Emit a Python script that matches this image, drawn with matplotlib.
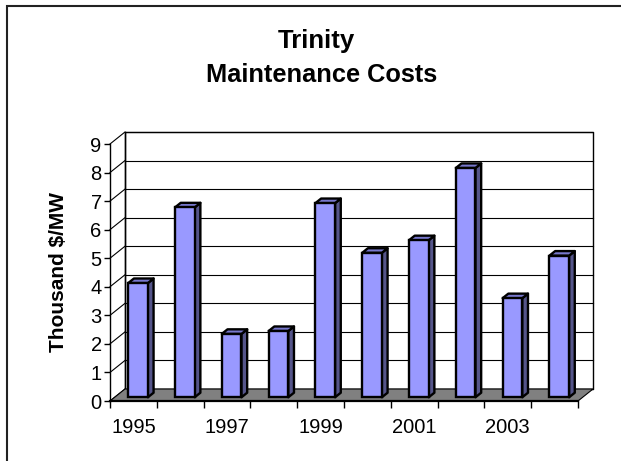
import matplotlib
matplotlib.use("Agg")
import matplotlib.pyplot as plt
from matplotlib.patches import Polygon, Rectangle

# ---- data ----
years = ["1995", "1996", "1997", "1998", "1999", "2000", "2001", "2002", "2003", "2004"]
costs = [4.0, 6.65, 2.22, 2.32, 6.8, 5.06, 5.5, 8.03, 3.47, 4.96]
y_ticks = [0, 1, 2, 3, 4, 5, 6, 7, 8, 9]
title_lines = ["Trinity", "Maintenance Costs"]
y_label = "Thousand $/MW"

plt.rcParams['font.family'] = ['Liberation Sans', 'DejaVu Sans']

W, H = 621, 461
fig = plt.figure(figsize=(W / 100, H / 100), dpi=100)
fig.patch.set_facecolor('white')

# front plot region in pixels
x0, x1 = 110, 578
yb, yt = 401, 144
ax = fig.add_axes([x0 / W, (H - yb) / H, (x1 - x0) / W, (yb - yt) / H])
ax.set_facecolor('none')
n = len(costs)
ax.set_xlim(-0.5, n - 0.5)
ax.set_ylim(0, 9)

# 3D depth offsets in data units
px_x = (x1 - x0) / n
px_y = (yb - yt) / 9
DX = 15 / px_x
DY = 12 / px_y
ymax = y_ticks[-1]

# back wall
ax.add_patch(Polygon([(-0.5 + DX, DY), (n - 0.5 + DX, DY), (n - 0.5 + DX, ymax + DY),
                      (-0.5 + DX, ymax + DY)], closed=True, facecolor='white',
                     edgecolor='black', lw=1.0, clip_on=False, zorder=1))
for k in y_ticks:
    ax.plot([-0.5 + DX, n - 0.5 + DX], [k + DY, k + DY], color='black', lw=0.8,
            clip_on=False, zorder=1.5)
    ax.plot([-0.5, -0.5 + DX], [k, k + DY], color='black', lw=0.8,
            clip_on=False, zorder=1.5)
ax.plot([-0.5 + DX, -0.5 + DX], [DY, ymax + DY], color='black', lw=1.0,
        clip_on=False, zorder=1.6)

# floor
ax.add_patch(Polygon([(-0.5, 0), (n - 0.5, 0), (n - 0.5 + DX, DY), (-0.5 + DX, DY)],
                     closed=True, facecolor='#808080', edgecolor='black', lw=0.8,
                     clip_on=False, zorder=2))

# bars
bw = 0.42
f0, f1 = 0.31, 0.69
bd = f1 - f0
xs = [i + f0 * DX for i in range(n)]
base = f0 * DY
ax.bar(xs, costs, width=bw, bottom=base, color='#9999FF', edgecolor='black',
       linewidth=1.7, zorder=5, clip_on=False)
for xc, v in zip(xs, costs):
    xr = xc + bw / 2
    xl = xc - bw / 2
    top = base + v
    ax.add_patch(Polygon([(xr, base), (xr + bd * DX, base + bd * DY),
                          (xr + bd * DX, top + bd * DY), (xr, top)], closed=True,
                         facecolor='#55558A', edgecolor='black', lw=1.7,
                         joinstyle='round', clip_on=False, zorder=4))
    ax.add_patch(Polygon([(xl, top), (xr, top), (xr + bd * DX, top + bd * DY),
                          (xl + bd * DX, top + bd * DY)], closed=True,
                         facecolor='#7777CC', edgecolor='black', lw=1.7,
                         joinstyle='round', clip_on=False, zorder=4))

# spines / ticks
for s in ['top', 'right']:
    ax.spines[s].set_visible(False)
ax.spines['left'].set_linewidth(1.0)
ax.spines['bottom'].set_linewidth(1.6)
ax.spines['left'].set_zorder(6)
ax.spines['bottom'].set_zorder(6)

ax.set_yticks(y_ticks)
ax.set_yticklabels([str(t) for t in y_ticks])
ax.tick_params(axis='y', direction='out', length=4, width=1.0, pad=2,
               labelsize=14.5)

ax.set_xticks([i - 0.5 for i in range(n + 1)])
ax.set_xticklabels([])
ax.tick_params(axis='x', which='major', direction='out', length=5, width=1.0)
ax.set_xticks(list(range(0, n, 2)), minor=True)
ax.set_xticklabels([years[i] for i in range(0, n, 2)], minor=True)
ax.tick_params(axis='x', which='minor', length=0, pad=12, labelsize=14.5)

# titles / labels
fig.text(316 / W, 1 - 48 / H, title_lines[0], ha='center', va='baseline',
         fontsize=18.5, fontweight='bold')
fig.text(322 / W, 1 - 82 / H, title_lines[1], ha='center', va='baseline',
         fontsize=18.3, fontweight='bold')
fig.text(58 / W, 1 - 272 / H, y_label, ha='center', va='center', rotation=90,
         fontsize=15, fontweight='bold')

# outer frame (top/left visible)
fig.add_artist(Rectangle((6.5 / W, -0.1), 1.2, 1 - 6.5 / H + 0.1,
                         transform=fig.transFigure, fill=False,
                         edgecolor='#222222', lw=1.5, clip_on=False))

fig.savefig('out.png', dpi=100)
